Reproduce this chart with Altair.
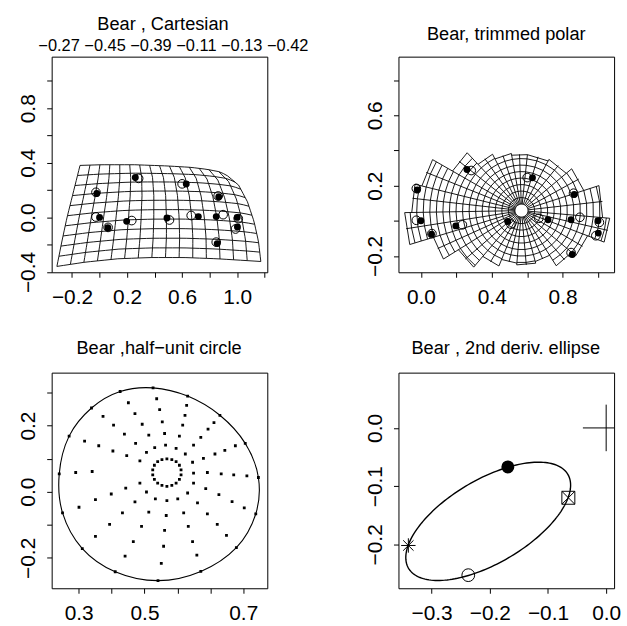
import numpy as np
import pandas as pd
import altair as alt

FONT = "Liberation Sans"
PANEL_W = 217
PANEL_H = 217

# ---------------- titles / text ----------------
titles = ["Bear , Cartesian", "Bear, trimmed polar", "Bear ,half\u2212unit circle", "Bear , 2nd deriv. ellipse"]
cartesian_values = [-0.27, -0.45, -0.39, -0.11, -0.13, -0.42]

# ---------------- landmarks (panels 1 and 2) ----------------
lm_target_x = [-0.020, 0.000, 0.060, 0.260, 0.197, 0.490, 0.630, 0.718, 0.866, 0.848, 1.000, 1.002, 0.855]
lm_target_y = [0.175, 0.000, -0.076, 0.292, -0.029, -0.004, 0.245, 0.006, 0.150, 0.006, 0.000, -0.070, -0.192]
lm_source_x = [-0.026, -0.026, 0.062, 0.284, 0.234, 0.508, 0.600, 0.666, 0.862, 0.898, 1.008, 0.988, 0.848]
lm_source_y = [0.184, 0.003, -0.073, 0.286, -0.023, -0.019, 0.246, 0.014, 0.157, 0.020, -0.009, -0.085, -0.181]

# ---------------- panel 1: deformed cartesian grid (edges) ----------------
grid_top_x = [-0.142, 0.014, 0.254, 0.494, 0.662, 0.782, 0.879, 0.931]
grid_top_y = [0.381, 0.386, 0.386, 0.377, 0.367, 0.352, 0.333, 0.304]
grid_right_x = [0.931, 1.011, 1.075, 1.123, 1.155, 1.172]      # top -> bottom
grid_right_y = [0.304, 0.236, 0.114, -0.031, -0.177, -0.323]
grid_bottom_x = [-0.310, -0.106, 0.134, 0.374, 0.614, 0.855, 1.047, 1.172]
grid_bottom_y = [-0.359, -0.328, -0.303, -0.294, -0.294, -0.303, -0.315, -0.323]
grid_left_x = [-0.142, -0.190, -0.238, -0.274, -0.310]          # top -> bottom
grid_left_y = [0.381, 0.187, -0.007, -0.177, -0.359]
grid_cols = 15
grid_rows = 10

# ---------------- panel 2: trimmed polar grid ----------------
polar_center_x = 0.568
polar_center_y = 0.058
polar_hole_radius = 0.037
polar_ring_step = 0.037
sector_start_deg = [-5, 18, 40, 62, 84, 100, 117, 133, 150, 166, 181, 197, 212, 230, 248, 265, 285, 302, 320, 339]
sector_radius = [0.46, 0.37, 0.33, 0.32, 0.32, 0.33, 0.36, 0.45, 0.58, 0.62, 0.66, 0.52, 0.42, 0.34, 0.30, 0.31, 0.30, 0.37, 0.40, 0.50]

# ---------------- panel 3: half-unit circle ----------------
circle_x = [0.526, 0.631, 0.729, 0.806, 0.846, 0.838, 0.779, 0.671, 0.541, 0.411, 0.311, 0.251, 0.241, 0.271, 0.339, 0.426]
circle_y = [0.314, 0.289, 0.231, 0.146, 0.043, -0.067, -0.169, -0.241, -0.269, -0.242, -0.172, -0.064, 0.054, 0.168, 0.253, 0.303]
spoke_dot_x = [0.537, 0.546, 0.554, 0.561, 0.564,
               0.628, 0.623, 0.616, 0.606, 0.596,
               0.711, 0.693, 0.671, 0.649, 0.624,
               0.776, 0.744, 0.714, 0.679, 0.646,
               0.811, 0.771, 0.733, 0.691, 0.649,
               0.803, 0.766, 0.726, 0.686, 0.649,
               0.749, 0.721, 0.691, 0.661, 0.631,
               0.659, 0.646, 0.633, 0.619, 0.601,
               0.551, 0.558, 0.561, 0.566, 0.568,
               0.441, 0.466, 0.491, 0.513, 0.533,
               0.351, 0.394, 0.433, 0.471, 0.506,
               0.301, 0.351, 0.399, 0.443, 0.486,
               0.291, 0.341,
               0.318, 0.361, 0.404, 0.446, 0.486,
               0.374, 0.406, 0.439, 0.473, 0.506,
               0.451, 0.471, 0.493, 0.513, 0.531]
spoke_dot_y = [0.281, 0.248, 0.211, 0.176, 0.141,
               0.261, 0.231, 0.201, 0.168, 0.131,
               0.209, 0.189, 0.164, 0.141, 0.114,
               0.139, 0.125, 0.114, 0.101, 0.089,
               0.048, 0.051, 0.054, 0.058, 0.056,
               -0.049, -0.030, -0.009, 0.009, 0.026,
               -0.132, -0.099, -0.067, -0.034, -0.004,
               -0.192, -0.151, -0.105, -0.064, -0.022,
               -0.217, -0.165, -0.117, -0.072, -0.027,
               -0.195, -0.151, -0.105, -0.062, -0.022,
               -0.135, -0.099, -0.064, -0.031, -0.001,
               -0.047, -0.024, -0.007, 0.011, 0.026,
               0.058, 0.061,
               0.153, 0.139, 0.123, 0.109, 0.093,
               0.228, 0.201, 0.174, 0.146, 0.119,
               0.269, 0.236, 0.204, 0.171, 0.133]
inner_ring_x = [0.568, 0.583, 0.596, 0.606, 0.611, 0.611, 0.606, 0.596, 0.583,
                0.568, 0.553, 0.540, 0.530, 0.525, 0.525, 0.530, 0.540, 0.553]
inner_ring_y = [0.099, 0.097, 0.091, 0.080, 0.066, 0.051, 0.037, 0.026, 0.019,
                0.016, 0.019, 0.026, 0.037, 0.051, 0.066, 0.080, 0.091, 0.097]

# ---------------- panel 4: 2nd derivative ellipse ----------------
ell_marker_x = [-0.169, -0.065, -0.340, -0.237]
ell_marker_y = [-0.067, -0.120, -0.202, -0.253]
cross_x = 0.0
cross_y = 0.0
cross_half = 0.04


# ======================= helpers =======================
def label_expr(ticks, texts):
    expr = "''"
    for t, s in reversed(list(zip(ticks, texts))):
        expr = f"abs(datum.value - ({t})) < 1e-6 ? '{s}' : ({expr})"
    return expr


def make_axis(orient, ticks, texts):
    cfg = dict(values=ticks, labelExpr=label_expr(ticks, texts), domain=False, grid=False,
               tickSize=5, tickColor="black", tickWidth=1, labelFont=FONT, labelFontSize=21,
               labelColor="black", labelOverlap=False, labelFlush=False, title=None, orient=orient)
    if orient == "left":
        cfg.update(labelAngle=270, labelAlign="center", labelBaseline="middle", labelPadding=18)
    else:
        cfg.update(labelAngle=0, labelAlign="center", labelBaseline="middle", labelPadding=20)
    return alt.Axis(**cfg)


def enc_xy(xdom, ydom, xt, xl, yt, yl):
    x = alt.X("x:Q", scale=alt.Scale(domain=xdom, nice=False, zero=False), axis=make_axis("bottom", xt, xl))
    y = alt.Y("y:Q", scale=alt.Scale(domain=ydom, nice=False, zero=False), axis=make_axis("left", yt, yl))
    return x, y


def minus(s):
    return s.replace("-", "\u2212")


def text_layer(txt, px, py, size):
    return alt.Chart(pd.DataFrame({"t": [txt]})).mark_text(
        font=FONT, fontSize=size, color="black", align="center", baseline="middle"
    ).encode(text="t:N", x=alt.value(px), y=alt.value(py))


def lines_df(polylines):
    rows = []
    for lid, pl in enumerate(polylines):
        for k, (px, py) in enumerate(pl):
            rows.append({"line": lid, "k": k, "x": float(px), "y": float(py)})
    return pd.DataFrame(rows)


def sampler(xs, ys):
    pts = np.column_stack([xs, ys]).astype(float)
    seg = np.hypot(*np.diff(pts, axis=0).T)
    cum = np.concatenate([[0.0], np.cumsum(seg)]) / seg.sum()
    return lambda t: np.array([np.interp(t, cum, pts[:, 0]), np.interp(t, cum, pts[:, 1])])


# ======================= panel 1 =======================
B = sampler(grid_bottom_x, grid_bottom_y)
T = sampler(grid_top_x, grid_top_y)
L = sampler(grid_left_x[::-1], grid_left_y[::-1])
R = sampler(grid_right_x[::-1], grid_right_y[::-1])
P00, P10, P01, P11 = B(0), B(1), T(0), T(1)


def coons(u, v):
    return ((1 - v) * B(u) + v * T(u) + (1 - u) * L(v) + u * R(v)
            - ((1 - u) * (1 - v) * P00 + u * (1 - v) * P10 + (1 - u) * v * P01 + u * v * P11))


grid_lines = []
for j in range(grid_rows + 1):
    v = j / grid_rows
    grid_lines.append([coons(u, v) for u in np.linspace(0, 1, grid_cols * 2 + 1)])
for i in range(grid_cols + 1):
    u = i / grid_cols
    grid_lines.append([coons(u, v) for v in np.linspace(0, 1, grid_rows * 2 + 1)])

lm_t = pd.DataFrame({"x": lm_target_x, "y": lm_target_y})
lm_s = pd.DataFrame({"x": lm_source_x, "y": lm_source_y})

x1, y1 = enc_xy([-0.348, 1.219], [-0.402, 1.178],
                [-0.2, 0.0, 0.2, 0.4, 0.6, 0.8, 1.0, 1.2], ["\u22120.2", "", "0.2", "", "0.6", "", "1.0", ""],
                [-0.4, -0.2, 0.0, 0.2, 0.4, 0.6, 0.8, 1.0], ["\u22120.4", "", "0.0", "", "0.4", "", "0.8", ""])


def landmark_layers(xe, ye):
    return [
        alt.Chart(lm_s).mark_point(shape="circle", filled=False, size=76, color="black", strokeWidth=1, opacity=1, clip=True).encode(x=xe, y=ye),
        alt.Chart(lm_t).mark_circle(size=48, color="black", opacity=1, clip=True).encode(x=xe, y=ye),
    ]


p1 = alt.layer(
    alt.Chart(lines_df(grid_lines)).mark_line(color="black", strokeWidth=0.9, clip=True).encode(
        x=x1, y=y1, detail="line:N", order="k:Q"),
    *landmark_layers(x1, y1),
    text_layer(titles[0], 112, -32, 18.3),
    text_layer(" ".join(minus(f"{v:.2f}") for v in cartesian_values), 122.5, -10.5, 16.5),
).properties(width=PANEL_W, height=PANEL_H)

# ======================= panel 2 =======================


def ppt(r, a_deg):
    a = np.radians(a_deg)
    return (polar_center_x + r * np.cos(a), polar_center_y + r * np.sin(a))


polar_lines = []
ns = len(sector_start_deg)
for i in range(ns):
    a0 = sector_start_deg[i]
    a1 = sector_start_deg[(i + 1) % ns] + (360 if i == ns - 1 else 0)
    am = (a0 + a1) / 2
    Rs = sector_radius[i]
    Rp = sector_radius[i - 1]
    r = polar_hole_radius
    while r < Rs - 0.012:
        polar_lines.append([ppt(r, a) for a in (a0, am, a1)])
        r += polar_ring_step
    polar_lines.append([ppt(Rs, a0), ppt(Rs, a1)])
    polar_lines.append([ppt(polar_hole_radius, am), ppt(Rs, am)])
    polar_lines.append([ppt(polar_hole_radius, a0), ppt(max(Rs, Rp), a0)])

x2, y2 = enc_xy([-0.127, 1.091], [-0.293, 0.934],
                [0.0, 0.2, 0.4, 0.6, 0.8, 1.0], ["0.0", "", "0.4", "", "0.8", ""],
                [-0.2, 0.0, 0.2, 0.4, 0.6, 0.8], ["\u22120.2", "", "0.2", "", "0.6", ""])

p2 = alt.layer(
    alt.Chart(lines_df(polar_lines)).mark_line(color="black", strokeWidth=0.9, clip=True).encode(
        x=x2, y=y2, detail="line:N", order="k:Q"),
    *landmark_layers(x2, y2),
    text_layer(titles[1], 108.5, -22, 18.3),
).properties(width=PANEL_W, height=PANEL_H)

# ======================= panel 3 =======================
x3, y3 = enc_xy([0.218, 0.873], [-0.292, 0.36],
                [0.3, 0.4, 0.5, 0.6, 0.7, 0.8], ["0.3", "", "0.5", "", "", "0.7"],
                [-0.2, -0.1, 0.0, 0.1, 0.2, 0.3], ["\u22120.2", "", "0.0", "", "0.2", ""])

circ_df = pd.DataFrame({"x": circle_x, "y": circle_y, "k": range(len(circle_x))})
dots_df = pd.DataFrame({"x": circle_x + spoke_dot_x + inner_ring_x,
                        "y": circle_y + spoke_dot_y + inner_ring_y})

p3 = alt.layer(
    alt.Chart(circ_df).mark_line(color="black", strokeWidth=1.1, interpolate="cardinal-closed", clip=True).encode(
        x=x3, y=y3, order="k:Q"),
    alt.Chart(dots_df).mark_square(size=8, color="black", opacity=1, clip=True).encode(x=x3, y=y3),
    text_layer(titles[2], 108, -24, 18.3),
).properties(width=PANEL_W, height=PANEL_H)

# ======================= panel 4 =======================
mx = np.array(ell_marker_x)
my = np.array(ell_marker_y)
cx = mx.mean()
cy = my.mean()
ax_, ay_ = (mx[1] - mx[2]) / 2, (my[1] - my[2]) / 2
bx_, by_ = (mx[0] - mx[3]) / 2, (my[0] - my[3]) / 2
tt = np.linspace(0, 2 * np.pi, 181)
ell_df = pd.DataFrame({"x": cx + ax_ * np.cos(tt) + bx_ * np.sin(tt),
                       "y": cy + ay_ * np.cos(tt) + by_ * np.sin(tt),
                       "k": range(len(tt))})
cross_df = pd.DataFrame({"x": [cross_x - cross_half, cross_x], "x2": [cross_x + cross_half, cross_x],
                         "y": [cross_y, cross_y - cross_half], "y2": [cross_y, cross_y + cross_half]})

x4, y4 = enc_xy([-0.357, 0.0136], [-0.2755, 0.095],
                [-0.3, -0.2, -0.1, 0.0], ["\u22120.3", "\u22120.2", "\u22120.1", "0.0"],
                [-0.2, -0.1, 0.0], ["\u22120.2", "\u22120.1", "0.0"])


def mk(i):
    return pd.DataFrame({"x": [ell_marker_x[i]], "y": [ell_marker_y[i]]})


BOXX = "M-1,-1H1V1H-1Z M-1,-1L1,1 M-1,1L1,-1"
STAR = "M-1,0L1,0 M0,-1L0,1 M-0.72,-0.72L0.72,0.72 M-0.72,0.72L0.72,-0.72"

p4 = alt.layer(
    alt.Chart(ell_df).mark_line(color="black", strokeWidth=1.4, clip=True).encode(x=x4, y=y4, order="k:Q"),
    alt.Chart(cross_df).mark_rule(color="black", strokeWidth=1, clip=True).encode(
        x=x4, x2="x2:Q", y=y4, y2="y2:Q"),
    alt.Chart(mk(0)).mark_circle(size=170, color="black", opacity=1).encode(x=x4, y=y4),
    alt.Chart(mk(1)).mark_point(shape=BOXX, size=170, filled=False, color="black", strokeWidth=1, opacity=1).encode(x=x4, y=y4),
    alt.Chart(mk(2)).mark_point(shape=STAR, size=210, filled=False, color="black", strokeWidth=1, opacity=1).encode(x=x4, y=y4),
    alt.Chart(mk(3)).mark_point(shape="circle", size=165, filled=False, color="black", strokeWidth=1, opacity=1).encode(x=x4, y=y4),
    text_layer(titles[3], 108, -24, 18.3),
).properties(width=PANEL_W, height=PANEL_H)

chart = alt.concat(p1, p2, p3, p4, columns=2, spacing={"row": 101, "column": 132}, bounds="flush").configure_view(
    stroke="black", strokeWidth=1
).properties(
    background="white",
    padding={"left": 17, "top": 12, "right": 5, "bottom": 5},
)

chart.save("out.html", embed_options={"renderer": "svg", "actions": False})
